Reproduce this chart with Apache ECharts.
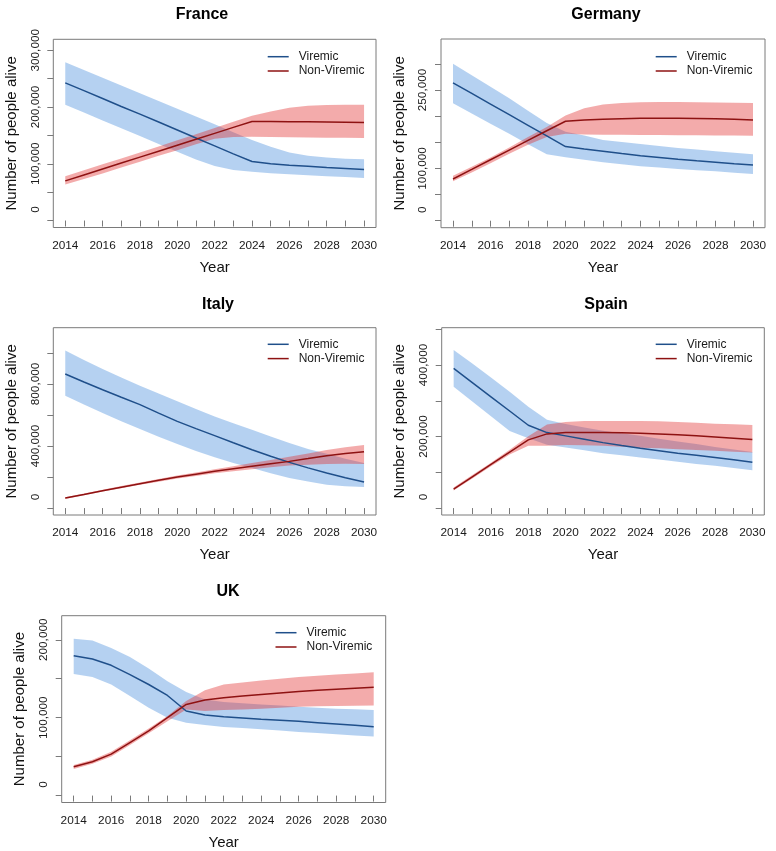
<!DOCTYPE html>
<html><head><meta charset="utf-8">
<script src="https://cdn.jsdelivr.net/npm/echarts@6/dist/echarts.min.js"></script>
<style>html,body{margin:0;padding:0;background:#fff}#c{width:776px;height:851px}</style>
</head><body><div id="c"></div>
<script>
// ---------------- data ----------------
const years = [2014,2015,2016,2017,2018,2019,2020,2021,2022,2023,2024,2025,2026,2027,2028,2029,2030];
const yearLabels = [2014,2016,2018,2020,2022,2024,2026,2028,2030];

// France
const franceVir   = [242600,228800,215000,201000,187500,173500,159500,145500,131500,117500,104000,100000,97500,95500,93500,91800,90000];
const franceVirHi = [279000,265300,251600,237900,224200,210500,196800,183100,169400,155700,142000,130000,120000,114000,111000,109000,108000];
const franceVirLo = [204000,190200,176400,162600,148800,135000,121000,107500,96000,89000,85800,83500,81700,79800,78000,76500,75000];
const franceNon   = [69800,80300,90800,101200,111700,122200,132700,143200,153600,164100,174600,174500,174200,174000,173600,173200,172800];
const franceNonHi = [78000,88500,99000,109500,120000,130500,141500,152000,163000,174000,184600,192000,198500,202000,203500,203800,203800];
const franceNonLo = [63300,73000,83000,93500,103500,114000,124000,134500,144000,147000,147500,147000,146500,146200,146000,145800,145500];
const franceTicks  = [0,50000,100000,150000,200000,250000,300000];
const franceLabels = [0,100000,200000,300000];

// Germany
const germanyVir   = [263600,243300,223000,202700,182400,162100,141700,137000,132700,128500,124400,121000,117400,114500,111700,109000,106600];
const germanyVirHi = [300000,278000,256000,234000,210000,187000,170000,162700,154400,150500,146800,143000,139000,136000,132700,130000,127000];
const germanyVirLo = [224600,205000,185500,166000,146000,127000,121300,116500,111700,107800,104000,101500,99000,96700,94400,91800,89300];
const germanyNon   = [79800,98000,116500,135000,153500,172000,190200,192700,194000,195000,196000,196000,196000,195500,195000,194000,192700];
const germanyNonHi = [86000,103000,121000,140000,160000,179000,201000,215000,222000,225000,226500,227000,227000,226500,226000,225500,225000];
const germanyNonLo = [75300,92000,110000,128000,145000,160000,166000,164600,164500,164300,164000,163800,163500,163300,163000,162800,162500];
const germanyTicks  = [0,50000,100000,150000,200000,250000,300000];
const germanyLabels = [0,100000,250000];

// Italy
const italyVir   = [864500,813000,763000,714000,666700,612000,559000,512000,466700,421000,376300,334000,294600,259000,225800,196000,167700];
const italyVirHi = [1015000,955000,897000,842000,789000,738000,688000,639000,591000,547000,505000,462000,419000,380000,350000,318000,290000];
const italyVirLo = [724700,668000,613000,560000,509700,460000,413000,368000,327000,290000,258000,225000,193500,172000,150500,140000,135500];
const italyNon   = [64500,88000,111800,134500,157000,179000,200000,218500,236600,253000,268800,285000,301000,319000,337600,352000,363400];
const italyNonHi = [70000,94000,118000,141500,165000,188000,210000,230000,250000,270000,290000,310000,330000,352000,375000,392000,406000];
const italyNonLo = [59000,82500,106000,128000,150000,170000,190000,207000,224000,238000,250000,263000,274000,280000,284000,285000,284000];
const italyTicks  = [0,200000,400000,600000,800000,1000000];
const italyLabels = [0,400000,800000];

// Spain
const spainVir   = [390700,350900,311100,271400,231600,211000,201900,192500,183000,175000,167400,160500,153500,147500,141400,135000,128400];
const spainVirHi = [442000,404000,365000,325000,283000,247000,235000,225000,216000,209000,202000,194000,186000,179000,171000,164000,157000];
const spainVirLo = [339500,298300,257000,215800,195000,177000,169300,161500,153500,147500,141400,135500,129300,123500,118000,112000,106000];
const spainNon   = [53000,87400,121900,156300,190700,207400,211200,211500,211200,210500,209300,207000,204700,202000,199000,195500,191600];
const spainNonHi = [57700,92500,127000,163000,201000,234000,241000,243700,243700,243700,243500,242500,241000,238500,236000,234500,232600];
const spainNonLo = [49300,83000,117000,150000,174000,174000,176700,175500,174000,171500,169000,167000,164700,162300,160000,157500,155300];
const spainTicks  = [0,100000,200000,300000,400000,500000];
const spainLabels = [0,200000,400000];

// UK
const ukVir   = [179600,175300,167200,155300,142600,128500,108500,103400,101300,99600,97900,96600,95300,93600,91900,90200,88500];
const ukVirHi = [201300,199100,189400,177900,163000,146800,132800,123400,120000,118500,117000,115500,114000,112700,111500,110700,109800];
const ukVirLo = [156200,152300,142600,127700,112800,100000,93600,90600,88100,86600,85100,83400,81700,80200,78700,77200,75700];
const ukNon   = [37000,43400,53200,68100,83000,100000,117000,122600,125500,127700,129800,131700,133600,135100,136600,137900,139100];
const ukNonHi = [39100,46000,56200,71000,86000,102000,121300,135300,142600,145200,147700,150000,152300,153800,155300,156800,158300];
const ukNonLo = [34000,40800,50200,65000,80000,95300,110600,108500,109800,110600,111500,112700,114000,114500,114900,115300,115700];
const ukTicks  = [0,50000,100000,150000,200000];
const ukLabels = [0,100000,200000];

// ---------------- layout / style ----------------
const FONT = "'Liberation Sans', Arial, Helvetica, sans-serif";
const AXIS = '#7a7a7a';
const BLUE_LINE = '#1f4f8a';
const RED_LINE = '#8e1212';
const BLUE_BAND = 'rgba(70,140,220,0.40)';
const RED_BAND = 'rgba(225,45,45,0.40)';
const TICKFONT = 11.8;

const panels = [
  {name:'France',  vir:franceVir,  virHi:franceVirHi,  virLo:franceVirLo,  non:franceNon,  nonHi:franceNonHi,  nonLo:franceNonLo,  ylim:[0,307000],  ticks:franceTicks,  labels:franceLabels,
   box:{l:53.3,t:39.3,r:376,b:227.5},  title:[202,16],  legend:[267.7,56.7]},
  {name:'Germany', vir:germanyVir, virHi:germanyVirHi, virLo:germanyVirLo, non:germanyNon, nonHi:germanyNonHi, nonLo:germanyNonLo, ylim:[0,334000],  ticks:germanyTicks, labels:germanyLabels,
   box:{l:441,t:39,r:765,b:227.7},     title:[606,16],  legend:[655.7,56.7]},
  {name:'Italy',   vir:italyVir,   virHi:italyVirHi,   virLo:italyVirLo,   non:italyNon,   nonHi:italyNonHi,   nonLo:italyNonLo,   ylim:[0,1118000], ticks:italyTicks,   labels:italyLabels,
   box:{l:53.3,t:327.7,r:376,b:515},   title:[218,306], legend:[267.7,344.3]},
  {name:'Spain',   vir:spainVir,   virHi:spainVirHi,   virLo:spainVirLo,   non:spainNon,   nonHi:spainNonHi,   nonLo:spainNonLo,   ylim:[0,485000],  ticks:spainTicks,   labels:spainLabels,
   box:{l:441.7,t:327.7,r:764.3,b:515}, title:[606,306], legend:[655.7,344.3]},
  {name:'UK',      vir:ukVir,      virHi:ukVirHi,      virLo:ukVirLo,      non:ukNon,      nonHi:ukNonHi,      nonLo:ukNonLo,      ylim:[0,222000],  ticks:ukTicks,      labels:ukLabels,
   box:{l:61.7,t:615.7,r:385.7,b:803.3}, title:[228,593], legend:[275.5,632.7]}
];

const option = {animation:false, backgroundColor:'#fff', title:[], grid:[], xAxis:[], yAxis:[], legend:[], series:[]};

function band(i, lo, hi, color){
  return {
    type:'custom', xAxisIndex:i, yAxisIndex:i, silent:true, z:1,
    data: years.map((y,k)=>[y, lo[k], hi[k]]),
    encode:{x:0, y:[1,2]},
    renderItem:(params, api)=>{
      if (params.dataIndex !== 0) return null;
      const n = years.length, top = [], bot = [];
      for (let k=0;k<n;k++){
        top.push(api.coord([api.value(0,k), api.value(2,k)]));
        bot.push(api.coord([api.value(0,k), api.value(1,k)]));
      }
      return {type:'polygon', shape:{points: top.concat(bot.reverse())}, style:{fill:color, stroke:null}};
    }
  };
}
function line(i, name, vals, color){
  return {type:'line', name, xAxisIndex:i, yAxisIndex:i, silent:true, z:3, symbol:'none',
    data: years.map((y,k)=>[y, vals[k]]),
    lineStyle:{color, width:1.5}, itemStyle:{color}};
}

panels.forEach((p,i)=>{
  const b = p.box;
  option.grid.push({left:b.l, top:b.t, width:b.r-b.l, height:b.b-b.t, show:true, borderColor:AXIS, borderWidth:1, backgroundColor:'transparent'});
  const xpad = (years[years.length-1]-years[0])*0.04;
  option.xAxis.push({
    type:'value', gridIndex:i, min:years[0]-xpad, max:years[years.length-1]+xpad,
    axisLine:{show:false}, splitLine:{show:false},
    axisTick:{show:true, customValues:years, length:6, lineStyle:{color:AXIS}},
    axisLabel:{customValues:yearLabels, fontSize:TICKFONT, color:'#1a1a1a', fontFamily:FONT, margin:12, formatter:v=>String(v)},
    name:'Year', nameLocation:'middle', nameGap:32.5,
    nameTextStyle:{fontSize:15, color:'#111', fontFamily:FONT}
  });
  const ypad = (p.ylim[1]-p.ylim[0])*0.04;
  option.yAxis.push({
    type:'value', gridIndex:i, min:p.ylim[0]-ypad, max:p.ylim[1]+ypad,
    axisLine:{show:false}, splitLine:{show:false},
    axisTick:{show:true, customValues:p.ticks, length:6, lineStyle:{color:AXIS}},
    axisLabel:{customValues:p.labels, rotate:90, fontSize:TICKFONT, color:'#1a1a1a', fontFamily:FONT, margin:12,
      formatter:v=> Number(v)===0 ? '{z|0}' : Number(v).toLocaleString('en-US'),
      rich:{z:{fontSize:TICKFONT, color:'#1a1a1a', fontFamily:FONT, padding:[0,0,0,22]}}},
    name:'Number of people alive', nameLocation:'middle', nameGap:34,
    nameTextStyle:{fontSize:15, color:'#111', fontFamily:FONT}
  });
  option.title.push({text:p.name, left:p.title[0], top:p.title[1]-9, textAlign:'center', padding:0,
    textStyle:{fontSize:16, fontWeight:'bold', color:'#000', fontFamily:FONT}});
  option.legend.push({orient:'vertical', left:p.legend[0], top:p.legend[1]-7, padding:0, itemGap:0.3,
    itemWidth:21, itemHeight:1.5, icon:'rect', selectedMode:false, data:['Viremic','Non-Viremic'],
    textStyle:{fontSize:12, color:'#1a1a1a', fontFamily:FONT, lineHeight:14, padding:[0,0,0,5]}});
  option.series.push(band(i, p.virLo, p.virHi, BLUE_BAND));
  option.series.push(band(i, p.nonLo, p.nonHi, RED_BAND));
  option.series.push(line(i, 'Viremic', p.vir, BLUE_LINE));
  option.series.push(line(i, 'Non-Viremic', p.non, RED_LINE));
});

const chart = echarts.init(document.getElementById('c'), null, {renderer:'canvas'});
chart.setOption(option);
</script></body></html>
